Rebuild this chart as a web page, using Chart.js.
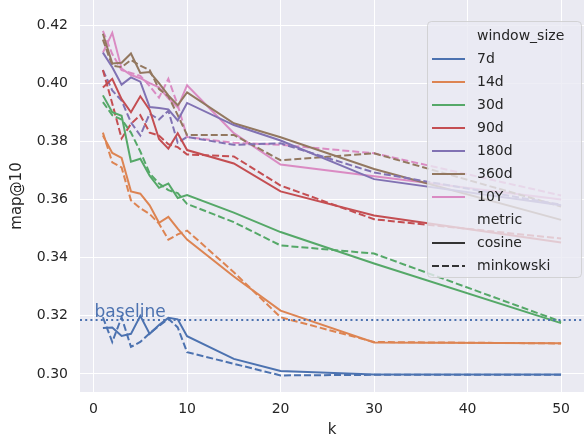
<!DOCTYPE html>
<html>
<head>
<meta charset="utf-8">
<script src="https://cdn.jsdelivr.net/npm/chart.js@4.4.0/dist/chart.umd.min.js"></script>
<style>
    body { margin: 0; background: #fff; }
    canvas { display: block; }
</style>
</head>
<body>
<canvas id="chart" width="584" height="439"></canvas>
<script>
// k values on the x axis
const kValues = [1, 2, 3, 4, 5, 6, 7, 8, 9, 10, 15, 20, 30, 50];
const xTicks = [0, 10, 20, 30, 40, 50];
const yTicks = [0.30, 0.32, 0.34, 0.36, 0.38, 0.40, 0.42];

const windowSizes = ['7d', '14d', '30d', '90d', '180d', '360d', '10Y'];
const windowColors = ['#4C72B0', '#DD8452', '#55A868', '#C44E52', '#8172B3', '#937860', '#DA8BC3'];

// map@10, metric = cosine
const cosine7d   = [0.3158, 0.3160, 0.3131, 0.3138, 0.3200, 0.3138, 0.3168, 0.3193, 0.3188, 0.3130, 0.3052, 0.3010, 0.2998, 0.2998];
const cosine14d  = [0.3820, 0.3760, 0.3743, 0.3628, 0.3620, 0.3580, 0.3520, 0.3540, 0.3500, 0.3462, 0.3335, 0.3218, 0.3108, 0.3106];
const cosine30d  = [0.3958, 0.3900, 0.3888, 0.3730, 0.3740, 0.3682, 0.3640, 0.3655, 0.3605, 0.3615, 0.3555, 0.3488, 0.3380, 0.3175];
const cosine90d  = [0.3985, 0.4015, 0.3945, 0.3900, 0.3955, 0.3908, 0.3808, 0.3775, 0.3828, 0.3770, 0.3724, 0.3628, 0.3545, 0.3452];
const cosine180d = [0.4105, 0.4055, 0.3995, 0.4020, 0.4005, 0.3918, 0.3915, 0.3910, 0.3872, 0.3932, 0.3856, 0.3803, 0.3670, 0.3580];
const cosine360d = [0.4170, 0.4068, 0.4070, 0.4102, 0.4035, 0.4038, 0.4000, 0.3958, 0.3924, 0.3968, 0.3862, 0.3814, 0.3705, 0.3530];
const cosine10Y  = [0.4105, 0.4173, 0.4050, 0.4028, 0.4017, 0.4000, 0.3986, 0.3948, 0.3917, 0.3993, 0.3828, 0.3720, 0.3680, 0.3600];

// map@10, metric = minkowski
const mink7d   = [0.3195, 0.3110, 0.3195, 0.3093, 0.3110, 0.3140, 0.3165, 0.3190, 0.3160, 0.3075, 0.3035, 0.2995, 0.2997, 0.2997];
const mink14d  = [0.3830, 0.3728, 0.3710, 0.3597, 0.3570, 0.3550, 0.3517, 0.3462, 0.3480, 0.3493, 0.3350, 0.3195, 0.3110, 0.3105];
const mink30d  = [0.3935, 0.3890, 0.3875, 0.3830, 0.3765, 0.3690, 0.3655, 0.3632, 0.3622, 0.3585, 0.3522, 0.3442, 0.3414, 0.3180];
const mink90d  = [0.4045, 0.3930, 0.3810, 0.3860, 0.3890, 0.3830, 0.3820, 0.3790, 0.3780, 0.3755, 0.3748, 0.3648, 0.3532, 0.3466];
const mink180d = [0.4045, 0.3975, 0.3940, 0.3865, 0.3820, 0.3895, 0.3875, 0.3905, 0.3795, 0.3815, 0.3788, 0.3793, 0.3693, 0.3582];
const mink360d = [0.4150, 0.4060, 0.4055, 0.4080, 0.4060, 0.4045, 0.3980, 0.3955, 0.3890, 0.3822, 0.3822, 0.3735, 0.3759, 0.3576];
const mink10Y  = [0.4180, 0.4100, 0.4045, 0.4035, 0.4025, 0.3990, 0.3950, 0.4015, 0.3925, 0.3815, 0.3795, 0.3788, 0.3759, 0.3614];

const baselineValue = 0.3186;

const cosineSeries = [cosine7d, cosine14d, cosine30d, cosine90d, cosine180d, cosine360d, cosine10Y];
const minkSeries = [mink7d, mink14d, mink30d, mink90d, mink180d, mink360d, mink10Y];

const FONT = "'DejaVu Sans', sans-serif";
const TEXT = '#262626';
const DASH = [7, 3];

function toPoints(values) {
    return kValues.map((k, i) => ({ x: k, y: values[i] }));
}

const datasets = [];
windowSizes.forEach((w, i) => {
    datasets.push({
        label: w + ' cosine',
        data: toPoints(cosineSeries[i]),
        borderColor: windowColors[i],
        borderWidth: 2,
        pointRadius: 0,
        tension: 0,
        fill: false
    });
    datasets.push({
        label: w + ' minkowski',
        data: toPoints(minkSeries[i]),
        borderColor: windowColors[i],
        borderWidth: 2,
        borderDash: DASH,
        pointRadius: 0,
        tension: 0,
        fill: false
    });
});

// grey plot background
const bgPlugin = {
    id: 'plotBg',
    beforeDraw(chart) {
        const { ctx, chartArea: a } = chart;
        ctx.save();
        ctx.fillStyle = '#EAEAF2';
        ctx.fillRect(a.left, a.top, a.right - a.left, a.bottom - a.top);
        ctx.restore();
    }
};

// dotted baseline with its label
const baselinePlugin = {
    id: 'baseline',
    afterDatasetsDraw(chart) {
        const { ctx, chartArea: a, scales } = chart;
        const y = scales.y.getPixelForValue(baselineValue);
        ctx.save();
        ctx.strokeStyle = '#4C72B0';
        ctx.lineWidth = 2;
        ctx.setLineDash([2, 3.2]);
        ctx.beginPath();
        ctx.moveTo(a.left, y);
        ctx.lineTo(a.right, y);
        ctx.stroke();
        ctx.setLineDash([]);
        ctx.fillStyle = '#4C72B0';
        ctx.font = '17px ' + FONT;
        ctx.textBaseline = 'alphabetic';
        ctx.fillText('baseline', scales.x.getPixelForValue(0) + 1, y - 3);
        ctx.restore();
    }
};

// seaborn style legend inside the plot
const legendPlugin = {
    id: 'innerLegend',
    afterDraw(chart) {
        const { ctx } = chart;
        const x0 = 427, y0 = 21, w = 154, h = 256;
        const rowH = 23;
        ctx.save();
        ctx.fillStyle = 'rgba(234,234,242,0.8)';
        ctx.strokeStyle = 'rgba(204,204,204,0.8)';
        ctx.lineWidth = 1;
        ctx.beginPath();
        ctx.roundRect(x0 + 0.5, y0 + 0.5, w, h, 4);
        ctx.fill();
        ctx.stroke();

        const rows = [{ text: 'window_size' }];
        windowSizes.forEach((ws, i) => rows.push({ text: ws, color: windowColors[i] }));
        rows.push({ text: 'metric' });
        rows.push({ text: 'cosine', color: '#333333' });
        rows.push({ text: 'minkowski', color: '#333333', dash: DASH });

        ctx.font = '14px ' + FONT;
        ctx.textBaseline = 'middle';
        rows.forEach((r, i) => {
            const cy = y0 + 15 + i * rowH;
            if (r.color) {
                ctx.strokeStyle = r.color;
                ctx.lineWidth = 2;
                ctx.setLineDash(r.dash || []);
                ctx.beginPath();
                ctx.moveTo(432, cy);
                ctx.lineTo(465, cy);
                ctx.stroke();
                ctx.setLineDash([]);
            }
            ctx.fillStyle = TEXT;
            ctx.fillText(r.text, 477, cy);
        });
        ctx.restore();
    }
};

new Chart(document.getElementById('chart'), {
    type: 'line',
    data: { datasets: datasets },
    options: {
        responsive: false,
        devicePixelRatio: 1,
        animation: false,
        layout: { padding: { top: 0, right: 0, left: 0, bottom: 0 } },
        plugins: {
            legend: { display: false },
            tooltip: { enabled: false }
        },
        scales: {
            x: {
                type: 'linear',
                min: -1.45,
                max: 52.45,
                afterBuildTicks: (s) => { s.ticks = xTicks.map(v => ({ value: v })); },
                afterFit: (s) => {
                    s.height = 47;
                    s.paddingLeft = 0;
                    s.paddingRight = 0;
                },
                grid: { color: '#ffffff', lineWidth: 1, drawTicks: false },
                border: { display: false },
                ticks: {
                    color: TEXT,
                    font: { family: FONT, size: 14 },
                    padding: 9,
                    maxRotation: 0
                },
                title: {
                    display: true,
                    text: 'k',
                    color: TEXT,
                    font: { family: FONT, size: 15 },
                    padding: { top: 0, bottom: 0 }
                }
            },
            y: {
                type: 'linear',
                min: 0.2938,
                max: 0.4286,
                afterBuildTicks: (s) => { s.ticks = yTicks.map(v => ({ value: v })); },
                afterFit: (s) => {
                    s.width = 80;
                    s.paddingTop = 0;
                    s.paddingBottom = 0;
                },
                grid: { color: '#ffffff', lineWidth: 1, drawTicks: false },
                border: { display: false },
                ticks: {
                    color: TEXT,
                    font: { family: FONT, size: 14 },
                    padding: 12,
                    callback: (v) => v.toFixed(2)
                },
                title: {
                    display: true,
                    text: 'map@10',
                    color: TEXT,
                    font: { family: FONT, size: 15 },
                    padding: { top: 8, bottom: 0 }
                }
            }
        }
    },
    plugins: [bgPlugin, baselinePlugin, legendPlugin]
});
</script>
</body>
</html>
